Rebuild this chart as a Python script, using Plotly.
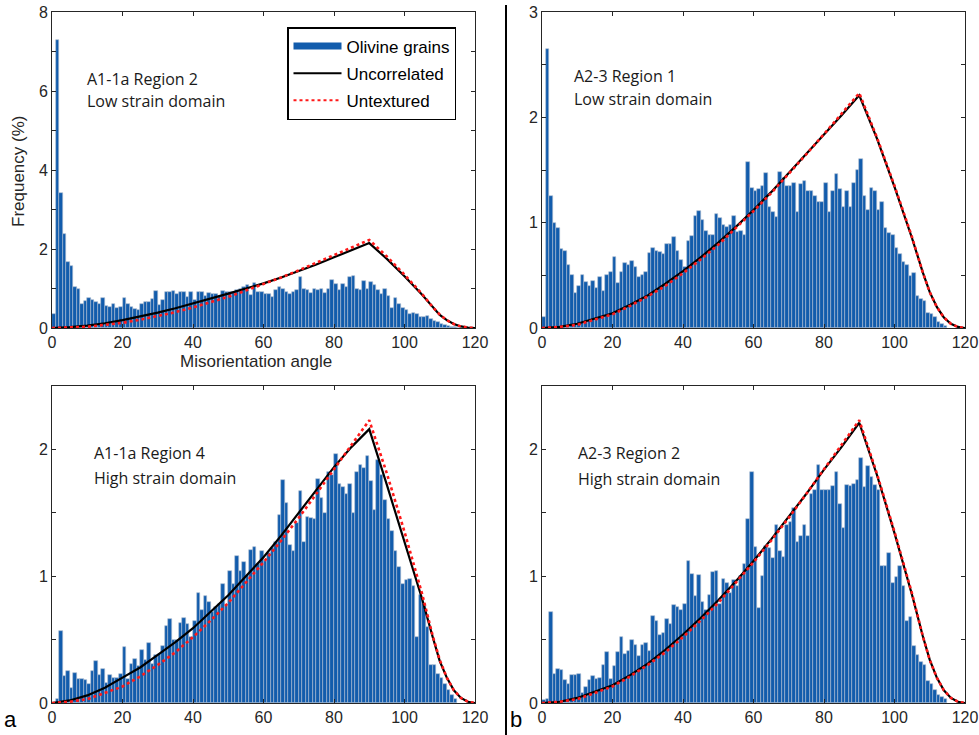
import numpy as np
import plotly.graph_objects as go

# ---------------- data ----------------
bin_width = 1.0  # degrees

# A1-1a Region 2 (low strain), frequency (%) per 1-degree bin starting at 0
a1_r2_freq = [0.35, 7.3, 3.42, 2.38, 1.68, 1.58, 1.05, 1.0, 0.62, 0.68,
              0.75, 0.7, 0.66, 0.6, 0.75, 0.55, 0.53, 0.6, 0.5, 0.52,
              0.75, 0.62, 0.54, 0.47, 0.45, 0.6, 0.65, 0.65, 0.73, 0.94,
              0.58, 0.7, 0.92, 0.92, 0.94, 0.85, 0.9, 0.92, 0.78, 0.92,
              0.72, 0.9, 0.9, 0.8, 0.88, 0.85, 0.86, 0.82, 0.94, 0.92,
              0.9, 0.92, 0.95, 1.0, 1.05, 1.09, 0.84, 1.13, 0.92, 0.92,
              0.85, 0.87, 0.78, 0.95, 1.05, 1.0, 0.9, 0.85, 0.92, 0.95,
              1.3, 0.98, 0.95, 0.88, 0.98, 0.95, 0.98, 0.88, 0.98, 1.22,
              1.12, 0.95, 1.12, 1.05, 1.3, 1.32, 0.98, 0.95, 1.18, 1.0,
              1.17, 1.1, 0.95, 0.85, 1.0, 0.82, 0.5, 0.75, 0.62, 0.5,
              0.45, 0.35, 0.38, 0.35, 0.28, 0.28, 0.3, 0.22, 0.17, 0.15,
              0.1, 0.08, 0.05, 0.03, 0.02, 0.01]

# A2-3 Region 1 (low strain)
a2_r1_freq = [0.1, 2.65, 1.25, 1.0, 0.95, 0.75, 0.73, 0.6, 0.5, 0.33,
              0.4, 0.5, 0.44, 0.4, 0.45, 0.38, 0.48, 0.35, 0.5, 0.53,
              0.67, 0.43, 0.53, 0.62, 0.6, 0.64, 0.58, 0.48, 0.5, 0.53,
              0.71, 0.76, 0.73, 0.72, 0.7, 0.8, 0.8, 0.86, 0.73, 0.65,
              0.58, 0.83, 0.87, 1.06, 1.11, 1.03, 0.92, 0.88, 0.88, 1.08,
              1.04, 0.98, 0.96, 0.98, 1.06, 0.91, 0.92, 0.88, 1.58, 1.33,
              1.3, 1.32, 1.35, 1.47, 1.15, 1.1, 1.05, 1.48, 1.42, 1.35,
              1.35, 1.38, 1.1, 1.37, 1.4, 1.3, 1.3, 1.25, 1.2, 1.2,
              1.38, 1.1, 1.3, 1.46, 1.32, 1.15, 1.3, 1.15, 1.38, 1.5,
              1.6, 1.25, 1.12, 1.33, 1.3, 1.12, 1.2, 0.95, 0.9, 0.88,
              0.76, 0.7, 0.63, 0.6, 0.49, 0.52, 0.3, 0.28, 0.26, 0.14,
              0.13, 0.1, 0.06, 0.04, 0.02]

# A1-1a Region 4 (high strain)
a1_r4_freq = [0.0, 0.03, 0.57, 0.21, 0.25, 0.12, 0.24, 0.19, 0.19, 0.18,
              0.15, 0.25, 0.33, 0.22, 0.27, 0.16, 0.22, 0.2, 0.2, 0.23,
              0.44, 0.19, 0.31, 0.35, 0.29, 0.42, 0.34, 0.47, 0.31, 0.38,
              0.39, 0.45, 0.61, 0.66, 0.5, 0.5, 0.63, 0.67, 0.62, 0.52,
              0.65, 0.87, 0.73, 0.84, 0.8, 0.72, 0.76, 0.78, 0.94, 0.77,
              1.04, 0.94, 1.16, 1.04, 1.11, 1.01, 1.21, 1.23, 1.1, 1.2,
              1.12, 1.18, 1.22, 1.27, 1.48, 1.76, 1.58, 1.25, 1.2, 1.42,
              1.67, 1.27, 1.47, 1.46, 1.45, 1.77, 1.62, 1.5, 1.82, 1.8,
              1.96, 1.73, 1.7, 1.65, 1.73, 1.5, 1.82, 1.88, 1.85, 1.95,
              1.75, 1.52, 1.92, 1.8, 1.6, 1.45, 1.36, 1.2, 1.07, 0.94,
              0.97, 0.98, 0.92, 0.52, 0.85, 0.78, 0.6, 0.3, 0.3, 0.23,
              0.2, 0.15, 0.1, 0.06, 0.03]

# A2-3 Region 2 (high strain)
a2_r2_freq = [0.02, 0.03, 0.72, 0.23, 0.27, 0.26, 0.18, 0.15, 0.22, 0.22,
              0.23, 0.08, 0.13, 0.18, 0.21, 0.19, 0.2, 0.3, 0.4, 0.19,
              0.29, 0.4, 0.52, 0.39, 0.41, 0.5, 0.46, 0.37, 0.46, 0.47,
              0.41, 0.69, 0.65, 0.54, 0.55, 0.66, 0.62, 0.77, 0.76, 0.73,
              0.78, 1.12, 1.02, 0.84, 1.01, 0.8, 0.73, 0.85, 1.03, 1.04,
              0.78, 0.98, 0.95, 0.87, 0.97, 0.92, 1.0, 1.1, 1.45, 1.82,
              1.23, 0.75, 1.0, 1.24, 1.22, 1.14, 1.4, 1.2, 1.15, 1.4,
              1.43, 1.54, 1.27, 1.32, 1.4, 1.32, 1.65, 1.68, 1.88, 1.68,
              1.68, 1.68, 1.71, 1.82, 1.57, 1.38, 1.72, 1.71, 1.73, 1.76,
              1.93, 1.7, 1.87, 1.78, 1.72, 1.68, 1.08, 1.08, 1.18, 0.95,
              0.99, 1.08, 0.92, 0.65, 0.68, 0.45, 0.38, 0.32, 0.3, 0.17,
              0.15, 0.1, 0.06, 0.05, 0.03]

# theoretical curves, sampled at these angles
curve_angles = [0, 5, 10, 15, 20, 25, 30, 35, 40, 45, 50, 55, 60, 65, 70,
                75, 80, 85, 90, 95, 100, 105, 108, 110, 112, 114, 116, 118, 120]

untextured = [0.0, 0.01, 0.03, 0.08, 0.13, 0.21, 0.30, 0.40, 0.52, 0.65,
              0.79, 0.95, 1.11, 1.28, 1.46, 1.65, 1.84, 2.03, 2.23, 1.81,
              1.35, 0.86, 0.53, 0.34, 0.2, 0.1, 0.04, 0.01, 0.0]

a1_r2_uncorrelated = [0.0, 0.02, 0.06, 0.12, 0.2, 0.29, 0.39, 0.5, 0.62, 0.74,
                      0.87, 1.0, 1.13, 1.28, 1.44, 1.61, 1.79, 1.97, 2.15, 1.75,
                      1.31, 0.84, 0.52, 0.33, 0.2, 0.1, 0.04, 0.01, 0.0]
a2_r1_uncorrelated = [0.0, 0.01, 0.04, 0.09, 0.14, 0.22, 0.31, 0.42, 0.54, 0.67,
                      0.81, 0.96, 1.12, 1.29, 1.47, 1.65, 1.84, 2.02, 2.21, 1.8,
                      1.34, 0.85, 0.53, 0.34, 0.2, 0.1, 0.04, 0.01, 0.0]
a1_r4_uncorrelated = [0.0, 0.02, 0.06, 0.12, 0.2, 0.28, 0.38, 0.48, 0.59, 0.72,
                      0.85, 1.0, 1.15, 1.32, 1.5, 1.68, 1.86, 2.02, 2.16, 1.72,
                      1.27, 0.82, 0.52, 0.33, 0.2, 0.1, 0.04, 0.01, 0.0]
a2_r2_uncorrelated = [0.0, 0.01, 0.04, 0.09, 0.14, 0.22, 0.31, 0.42, 0.54, 0.67,
                      0.81, 0.96, 1.12, 1.29, 1.47, 1.65, 1.84, 2.02, 2.21, 1.8,
                      1.34, 0.85, 0.53, 0.34, 0.2, 0.1, 0.04, 0.01, 0.0]

x_ticks = [0, 20, 40, 60, 80, 100, 120]

panel_titles = [("A1-1a Region 2", "Low strain domain"),
                ("A2-3 Region 1", "Low strain domain"),
                ("A1-1a Region 4", "High strain domain"),
                ("A2-3 Region 2", "High strain domain")]

# ---------------- layout helpers ----------------
W, H = 979, 735


def px(x):
    return x / W


def py(y):
    return 1 - y / H


BAR_COLOR = "rgb(18,92,172)"
AXIS_COLOR = "#262626"
SANS = "Liberation Sans, Arial, sans-serif"
TICK_FONT = dict(family=SANS, size=16, color=AXIS_COLOR)
TEXT_FONT = dict(family="Open Sans, sans-serif", size=16, color="#1a1a1a")

panels = [
    dict(freq=a1_r2_freq, unc=a1_r2_uncorrelated, xd=(52, 475), yd=(12, 328),
         yr=8, ytick=1, ylab=2, text_x=85, text_y=(79, 101)),
    dict(freq=a2_r1_freq, unc=a2_r1_uncorrelated, xd=(542, 965), yd=(12, 328),
         yr=3, ytick=0.5, ylab=1, text_x=572, text_y=(76, 99)),
    dict(freq=a1_r4_freq, unc=a1_r4_uncorrelated, xd=(52, 475), yd=(386, 703),
         yr=2.5, ytick=0.5, ylab=1, text_x=92, text_y=(453, 478)),
    dict(freq=a2_r2_freq, unc=a2_r2_uncorrelated, xd=(542, 965), yd=(386, 703),
         yr=2.5, ytick=0.5, ylab=1, text_x=576, text_y=(453, 479)),
]

fig = go.Figure()
annotations = []
layout_axes = {}

for i, p in enumerate(panels):
    n = "" if i == 0 else str(i + 1)
    xref, yref = "x" + n, "y" + n
    freq = np.array(p["freq"])
    centers = (np.arange(len(freq)) + 0.5) * bin_width

    fig.add_trace(go.Bar(
        x=centers, y=freq, width=bin_width, xaxis=xref, yaxis=yref,
        marker=dict(color=BAR_COLOR, line=dict(color="rgb(175,190,210)", width=0.6)),
        name="Olivine grains", showlegend=False, hoverinfo="x+y"))
    fig.add_trace(go.Scatter(
        x=curve_angles, y=p["unc"], xaxis=xref, yaxis=yref, mode="lines",
        line=dict(color="black", width=2.2), name="Uncorrelated", showlegend=False))
    fig.add_trace(go.Scatter(
        x=curve_angles, y=untextured, xaxis=xref, yaxis=yref, mode="lines",
        line=dict(color="rgb(255,25,25)", width=2.6, dash="3px,3px"),
        name="Untextured", showlegend=False))

    yvals = list(np.round(np.arange(0, p["yr"] + 1e-9, p["ytick"]), 3))
    ytext = [("%g" % v) if abs(v / p["ylab"] - round(v / p["ylab"])) < 1e-6 else "" for v in yvals]

    common = dict(showline=True, linecolor=AXIS_COLOR, linewidth=1, mirror="ticks",
                  ticks="inside", ticklen=4, tickwidth=1, tickcolor=AXIS_COLOR,
                  showgrid=False, zeroline=False, tickfont=TICK_FONT, automargin=False)
    layout_axes["xaxis" + n] = dict(
        common, domain=[px(p["xd"][0]), px(p["xd"][1])], anchor=yref,
        range=[0, 120], tickmode="array", tickvals=x_ticks)
    layout_axes["yaxis" + n] = dict(
        common, domain=[py(p["yd"][1]), py(p["yd"][0])], anchor=xref,
        range=[0, p["yr"]], tickmode="array", tickvals=yvals, ticktext=ytext)

    t1, t2 = panel_titles[i]
    for txt, yy in zip((t1, t2), p["text_y"]):
        annotations.append(dict(text=txt, x=px(p["text_x"]), y=py(yy), xref="paper",
                                yref="paper", xanchor="left", yanchor="middle",
                                showarrow=False, font=TEXT_FONT))

# legend-only entries (TL panel)
fig.add_trace(go.Scatter(x=[None], y=[None], mode="lines", name="Olivine grains",
                         line=dict(color=BAR_COLOR, width=7), legendgroup="g1"))
fig.add_trace(go.Scatter(x=[None], y=[None], mode="lines", name="Uncorrelated",
                         line=dict(color="black", width=2), legendgroup="g2"))
fig.add_trace(go.Scatter(x=[None], y=[None], mode="lines", name="Untextured",
                         line=dict(color="rgb(255,25,25)", width=2, dash="3px,3px"),
                         legendgroup="g3"))

# axis titles
annotations.append(dict(text="Misorientation angle", x=px(256), y=py(361), xref="paper",
                        yref="paper", xanchor="center", yanchor="middle", showarrow=False,
                        font=dict(family=SANS, size=17, color=AXIS_COLOR)))
annotations.append(dict(text="Frequency (%)", x=px(18), y=py(172), xref="paper",
                        yref="paper", xanchor="center", yanchor="middle", showarrow=False,
                        textangle=-90, font=dict(family=SANS, size=17, color=AXIS_COLOR)))
# panel letters
for letter, xx in (("a", 10), ("b", 516)):
    annotations.append(dict(text=letter, x=px(xx), y=py(719), xref="paper", yref="paper",
                            xanchor="center", yanchor="middle", showarrow=False,
                            font=dict(family=SANS, size=22, color="black")))

fig.update_layout(
    width=W, height=H, margin=dict(l=0, r=0, t=0, b=0, pad=0), autosize=False,
    paper_bgcolor="white", plot_bgcolor="white",
    barmode="overlay", bargap=0,
    annotations=annotations,
    shapes=[dict(type="line", xref="paper", yref="paper", x0=px(506), x1=px(506),
                 y0=0, y1=py(5), line=dict(color="black", width=2))],
    legend=dict(x=px(287), y=py(27), xanchor="left", yanchor="top",
                bordercolor="black", borderwidth=1.5, bgcolor="white",
                font=dict(family=SANS, size=17, color="black"),
                itemwidth=48, tracegroupgap=2, traceorder="grouped"),
    showlegend=True,
    **layout_axes,
)

fig.write_html("out.html", config={"responsive": False, "displayModeBar": False},
               post_script="document.body.style.margin='0';document.body.style.padding='0';"
                           "document.documentElement.style.overflow='hidden';")
